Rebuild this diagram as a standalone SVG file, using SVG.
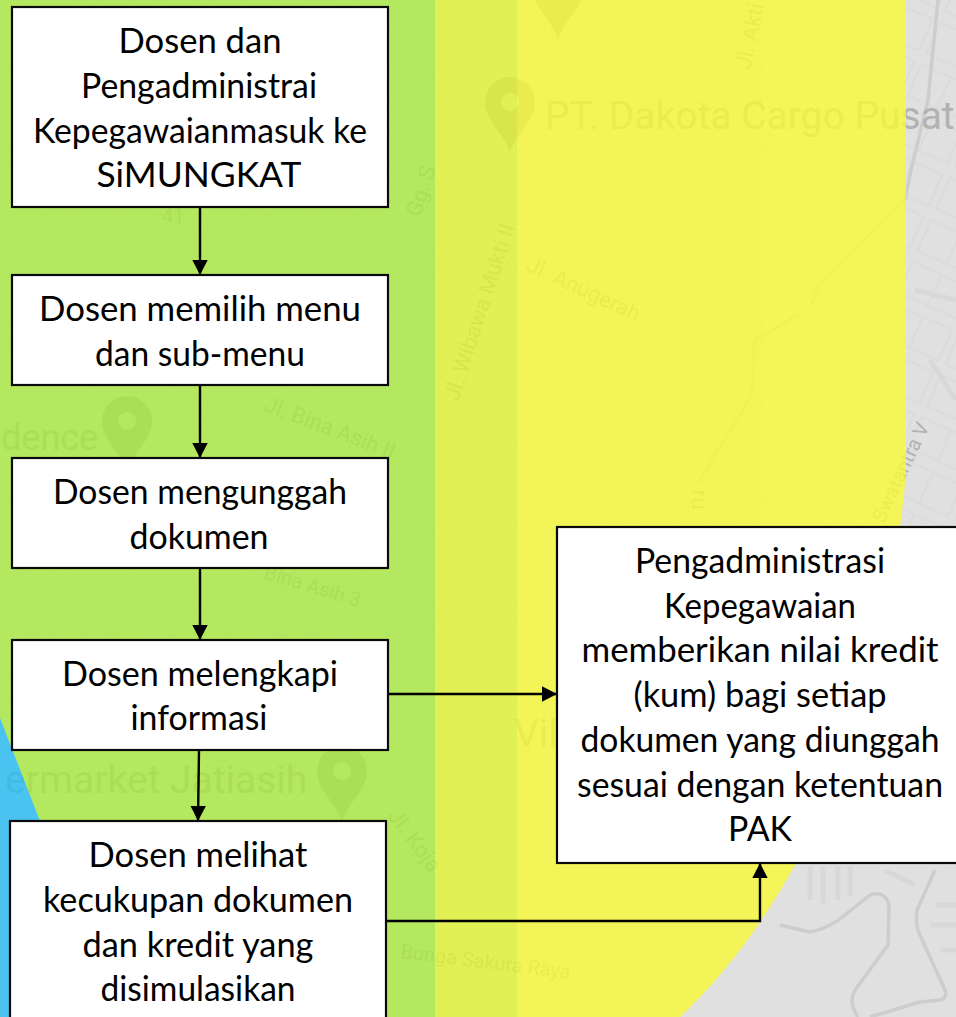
<svg xmlns="http://www.w3.org/2000/svg" width="956" height="1017" viewBox="0 0 956 1017">
<style>
.box{fill:#fff;stroke:#0a0a0a;stroke-width:2.2}
.t{font-family:"Lato","Liberation Sans",sans-serif;font-size:34px;fill:#000;text-anchor:middle}
.c{fill:none;stroke:#000;stroke-width:2.4}
.m{font-family:"Roboto","Liberation Sans",sans-serif;fill:#b2b2b2}
.r{fill:none;stroke:#cdcdcd;stroke-width:3.5;stroke-linejoin:round}
.s{fill:none;stroke:#d8d8d8;stroke-width:5}
.p{fill:#b2b2b2;fill-rule:evenodd}
</style>
<defs>
<marker id="a" markerUnits="userSpaceOnUse" markerWidth="16" markerHeight="16" refX="15" refY="8" orient="auto"><path d="M0 .3L15 8L0 15.7z" fill="#000"/></marker>
<pattern id="g" width="72" height="46" patternUnits="userSpaceOnUse" patternTransform="rotate(24)"><path d="M4 6H68V40H4zM36 6V40" fill="none" stroke="#dadada" stroke-width="1.6"/></pattern>
<path id="pin" d="M0 50C-6 30-25 18-25-1A25 25 0 1 1 25-1C25 18 6 30 0 50zM9-1A9 9 0 1 0-9-1A9 9 0 1 0 9-1z"/>
</defs>
<g id="background">
<rect width="956" height="1017" fill="#e0e0e0"/>
<rect width="956" height="775" fill="url(#g)"/>
<g id="map">
<path class="r" d="M905 200L871 233L818 287L811 305M798 315L755 340L752 395L698 483M938 0L928 100L911 170L905 200"/>
<path class="r" d="M780 925L810 932Q830 928 845 915L870 895Q885 890 889 905L888 945L855 990Q848 1003 858 1017M935 870L917 910Q915 925 920 935L945 990Q948 998 940 1000L920 1002L870 1017"/>
<path class="s" d="M810 866V900M823 866V903M838 866V900M850 866V896M885 870L915 885M936 905H956M930 925H956M940 950H956M920 540V600M930 360L956 400M915 290L956 300"/>
<use href="#pin" class="p" x="510" y="103"/>
<use href="#pin" class="p" x="558" y="-10"/>
<use href="#pin" class="p" x="127" y="422"/>
<use href="#pin" class="p" x="342" y="772"/>
<text class="m" x="545" y="129" font-size="39">PT. Dakota Cargo Pusat</text>
<text class="m" x="1" y="450" font-size="36">dence</text>
<text class="m" x="5" y="793" font-size="39">ermarket Jatiasih</text>
<text class="m" x="514" y="747" font-size="39">Vil</text>
<text class="m" font-size="22" transform="translate(525 270) rotate(25)">Jl. Anugerah</text>
<text class="m" font-size="22" transform="translate(263 410) rotate(21)">Jl. Bina Asih II</text>
<text class="m" font-size="20" transform="translate(263 578) rotate(17)">Bina Asih 3</text>
<text class="m" font-size="22" transform="translate(750 70) rotate(-78)">Jl. Akti</text>
<text class="m" font-size="22" transform="translate(458 402) rotate(-72)">Jl. Wibawa Mukti II</text>
<text class="m" font-size="22" transform="translate(387 816) rotate(53)">Jl. Koja</text>
<text class="m" font-size="20" transform="translate(400 958) rotate(7)">Bunga Sakura Raya</text>
<text class="m" font-size="20" transform="translate(884 524) rotate(-65)">Swatantra V</text>
<text class="m" font-size="22" transform="translate(420 218) rotate(-72)">Gg. S</text>
<text class="m" font-size="20" x="162" y="223">41</text>
<text class="m" font-size="22" transform="translate(692 490) rotate(90)">ru</text>
</g>
<g id="overlay" opacity=".8">
<path d="M906 0V470Q904 500 900 527C875 650 840 790 796 863C765 920 725 975 680 1017H0V0z" fill="#f8fa36"/>
<rect x="435" width="82" height="1017" fill="#e2f432"/>
<rect width="435" height="1017" fill="#a9ea40"/>
<path d="M0 718L40 821V1017H0z" fill="#25bdf4"/>
</g>
</g>
<g id="connectors">
<path class="c" marker-end="url(#a)" d="M200 207V275"/>
<path class="c" marker-end="url(#a)" d="M200 385V458"/>
<path class="c" marker-end="url(#a)" d="M200 568V640"/>
<path class="c" marker-end="url(#a)" d="M199 750L198 821"/>
<path class="c" marker-end="url(#a)" d="M388 694H557"/>
<path class="c" marker-end="url(#a)" d="M386 921H760V863"/>
</g>
<g id="n1"><rect class="box" x="12" y="7" width="376" height="200"/>
<text class="t" x="200" y="53" textLength="163" lengthAdjust="spacingAndGlyphs">Dosen dan</text><text class="t" x="199" y="98" textLength="236" lengthAdjust="spacingAndGlyphs">Pengadministrai</text><text class="t" x="200" y="143" textLength="334" lengthAdjust="spacingAndGlyphs">Kepegawaianmasuk ke</text><text class="t" x="199" y="187" textLength="205" lengthAdjust="spacingAndGlyphs">SiMUNGKAT</text></g>
<g id="n2"><rect class="box" x="12" y="275" width="376" height="110"/>
<text class="t" x="200" y="321" textLength="322" lengthAdjust="spacingAndGlyphs">Dosen memilih menu</text><text class="t" x="200" y="366" textLength="210" lengthAdjust="spacingAndGlyphs">dan sub-menu</text></g>
<g id="n3"><rect class="box" x="12" y="458" width="376" height="110"/>
<text class="t" x="200" y="504" textLength="294" lengthAdjust="spacingAndGlyphs">Dosen mengunggah</text><text class="t" x="199" y="549" textLength="139" lengthAdjust="spacingAndGlyphs">dokumen</text></g>
<g id="n4"><rect class="box" x="12" y="640" width="376" height="110"/>
<text class="t" x="200" y="686" textLength="276" lengthAdjust="spacingAndGlyphs">Dosen melengkapi</text><text class="t" x="199" y="730" textLength="137" lengthAdjust="spacingAndGlyphs">informasi</text></g>
<g id="n5"><rect class="box" x="10" y="821" width="376" height="210"/>
<text class="t" x="198" y="867" textLength="219" lengthAdjust="spacingAndGlyphs">Dosen melihat</text><text class="t" x="198" y="912" textLength="310" lengthAdjust="spacingAndGlyphs">kecukupan dokumen</text><text class="t" x="198" y="957" textLength="231" lengthAdjust="spacingAndGlyphs">dan kredit yang</text><text class="t" x="198" y="1001" textLength="195" lengthAdjust="spacingAndGlyphs">disimulasikan</text></g>
<g id="n6"><rect class="box" x="557" y="527" width="410" height="336"/>
<text class="t" x="760" y="573" textLength="250" lengthAdjust="spacingAndGlyphs">Pengadministrasi</text><text class="t" x="760" y="618" textLength="192" lengthAdjust="spacingAndGlyphs">Kepegawaian</text><text class="t" x="760" y="662" textLength="357" lengthAdjust="spacingAndGlyphs">memberikan nilai kredit</text><text class="t" x="760" y="707" textLength="253" lengthAdjust="spacingAndGlyphs">(kum) bagi setiap</text><text class="t" x="760" y="752" textLength="359" lengthAdjust="spacingAndGlyphs">dokumen yang diunggah</text><text class="t" x="760" y="797" textLength="366" lengthAdjust="spacingAndGlyphs">sesuai dengan ketentuan</text><text class="t" x="760" y="841" textLength="64" lengthAdjust="spacingAndGlyphs">PAK</text></g>
</svg>
